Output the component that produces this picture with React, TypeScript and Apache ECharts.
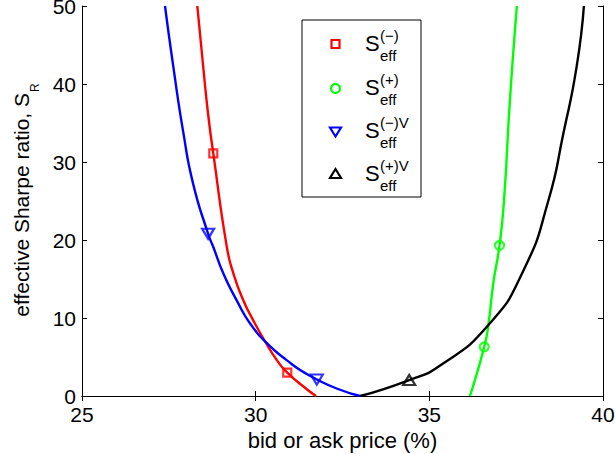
import { useEffect, useRef } from "react";
import * as echarts from "echarts";

const FONT = "'Liberation Sans', Arial, Helvetica, sans-serif";

// Curves: bid or ask price (%) against effective Sharpe ratio
const sMinusX = [28.32, 28.49, 28.64, 28.78, 29.17, 29.36, 29.64, 29.93, 30.27, 30.61, 30.91, 31.49, 31.74];
const sMinusY = [50, 42.2, 35.8, 31.1, 19.1, 15.7, 12.3, 9.7, 7.0, 4.6, 3.0, 0.8, 0];

const sPlusX = [36.17, 36.58, 36.70, 36.84, 37.02, 37.15, 37.32, 37.52];
const sPlusY = [0, 6.3, 9.1, 14.4, 19.3, 25.1, 37.9, 50];

const sMinusVX = [27.39, 27.63, 27.92, 28.2, 28.63, 28.78, 29.07, 29.45, 29.84, 30.27, 30.89, 31.56, 32.43, 33.01];
const sMinusVY = [50, 42.2, 33.7, 27.2, 20.8, 19.1, 15.7, 12.3, 9.3, 7.0, 4.6, 2.6, 0.8, 0];

const sPlusVX = [33.01, 34.42, 35.31, 36.7, 37.71, 38.43, 38.86, 39.24, 39.45];
const sPlusVY = [0, 2.05, 3.9, 9.1, 16.1, 25.1, 33.7, 42.2, 50];

// Marker positions on each curve
const sMinusMarkX = [28.78, 30.91];
const sMinusMarkY = [31.1, 3.0];
const sPlusMarkX = [36.58, 37.02];
const sPlusMarkY = [6.3, 19.3];
const sMinusVMarkX = [28.63, 31.76];
const sMinusVMarkY = [20.8, 2.1];
const sPlusVMarkX = [34.42];
const sPlusVMarkY = [2.05];

// Legend superscripts for S_eff
const legendSup = ["(−)", "(+)", "(−)V", "(+)V"];
const legendColors = ["#ff0000", "#00ff00", "#0000ff", "#000000"];

const X_MIN = 25;
const X_MAX = 40;
const X_STEP = 5;
const Y_MIN = 0;
const Y_MAX = 50;
const Y_STEP = 10;

const zip = (xs: number[], ys: number[]) => xs.map((x, i) => [x, ys[i]]);

function curve(name: string, xs: number[], ys: number[], color: string) {
  return {
    name,
    type: "line",
    data: zip(xs, ys),
    smooth: 0.55,
    showSymbol: false,
    symbol: "none",
    lineStyle: { color, width: 2.4 },
    z: 2,
  };
}

function markers(xs: number[], ys: number[], color: string, symbol: string, size: any, rotate = 0) {
  return {
    type: "scatter",
    data: zip(xs, ys),
    symbol,
    symbolSize: size,
    symbolRotate: rotate,
    itemStyle: { color: "rgba(0,0,0,0)", borderColor: color, borderWidth: 2.2 },
    z: 3,
  };
}

function legendMarker(i: number, cx: number, cy: number) {
  const color = legendColors[i];
  const style = { fill: "none", stroke: color, lineWidth: 2.2 };
  if (i === 0) return { type: "rect", shape: { x: cx - 4, y: cy - 4, width: 8, height: 8 }, style };
  if (i === 1) return { type: "circle", shape: { cx, cy, r: 4.5 }, style };
  if (i === 2)
    return { type: "polygon", shape: { points: [[cx - 5.5, cy - 4], [cx + 5.5, cy - 4], [cx, cy + 5]] }, style };
  return { type: "polygon", shape: { points: [[cx - 5.5, cy + 4], [cx + 5.5, cy + 4], [cx, cy - 5]] }, style };
}

function legendGraphic() {
  const rows = [44, 88.5, 131.5, 174];
  const children: any[] = [
    { type: "rect", shape: { x: 302, y: 20, width: 119, height: 177 }, style: { fill: "#fff", stroke: "#000", lineWidth: 1 } },
  ];
  rows.forEach((cy, i) => {
    children.push(legendMarker(i, 335.5, cy));
    children.push({
      type: "text",
      x: 365,
      y: cy - 1,
      style: { text: "S", fontFamily: FONT, fontSize: 22, fill: "#000", align: "left", verticalAlign: "middle" },
    });
    children.push({
      type: "text",
      x: 380,
      y: cy - 9,
      style: { text: legendSup[i], fontFamily: FONT, fontSize: 15, fill: "#000", align: "left", verticalAlign: "middle" },
    });
    children.push({
      type: "text",
      x: 380,
      y: cy + 11,
      style: { text: "eff", fontFamily: FONT, fontSize: 15, fill: "#000", align: "left", verticalAlign: "middle" },
    });
  });
  return { type: "group", z: 10, children };
}

function yNameGraphic() {
  return {
    type: "group",
    x: 21.4,
    y: 93,
    rotation: Math.PI / 2,
    children: [
      {
        type: "text",
        x: 0,
        y: 0,
        style: { text: "effective Sharpe ratio, S", fontFamily: FONT, fontSize: 21, fill: "#000", align: "right", verticalAlign: "middle" },
      },
      {
        type: "text",
        x: 1,
        y: 13.3,
        style: { text: "R", fontFamily: FONT, fontSize: 12, fill: "#000", align: "left", verticalAlign: "middle" },
      },
    ],
  };
}

const axisLineStyle = { show: true, lineStyle: { color: "#000", width: 1 } };
const tickStyle = { show: true, inside: true, length: 5, lineStyle: { color: "#000", width: 1 } };

export default function App() {
  const ref = useRef<HTMLDivElement>(null);

  useEffect(() => {
    if (!ref.current) return;
    const chart = echarts.init(ref.current, undefined, { renderer: "svg" });
    chart.setOption({
      animation: false,
      backgroundColor: "#fff",
      grid: { left: 82, right: 12, top: 6, bottom: 58, containLabel: false, outerBoundsMode: "none" },
      xAxis: [
        {
          type: "value",
          min: X_MIN,
          max: X_MAX,
          interval: X_STEP,
          position: "bottom",
          name: "bid or ask price (%)",
          nameLocation: "middle",
          nameGap: 33,
          nameTextStyle: { fontFamily: FONT, fontSize: 22, color: "#000" },
          axisLine: axisLineStyle,
          axisTick: tickStyle,
          axisLabel: { fontFamily: FONT, fontSize: 21, color: "#000", margin: 8 },
          splitLine: { show: false },
        },
        {
          type: "value",
          min: X_MIN,
          max: X_MAX,
          interval: X_STEP,
          position: "top",
          axisLine: axisLineStyle,
          axisTick: tickStyle,
          axisLabel: { show: false },
          splitLine: { show: false },
        },
      ],
      yAxis: [
        {
          type: "value",
          min: Y_MIN,
          max: Y_MAX,
          interval: Y_STEP,
          position: "left",
          axisLine: axisLineStyle,
          axisTick: tickStyle,
          axisLabel: { fontFamily: FONT, fontSize: 21, lineHeight: 16, color: "#000", margin: 6, padding: [4, 0, 0, 0] },
          splitLine: { show: false },
        },
        {
          type: "value",
          min: Y_MIN,
          max: Y_MAX,
          interval: Y_STEP,
          position: "right",
          axisLine: axisLineStyle,
          axisTick: tickStyle,
          axisLabel: { show: false },
          splitLine: { show: false },
        },
      ],
      series: [
        curve("S(−)", sMinusX, sMinusY, "#ff0000"),
        curve("S(+)", sPlusX, sPlusY, "#00ff00"),
        curve("S(−)V", sMinusVX, sMinusVY, "#0000ff"),
        curve("S(+)V", sPlusVX, sPlusVY, "#000000"),
        markers(sMinusMarkX, sMinusMarkY, "#ff0000", "rect", 8),
        markers(sPlusMarkX, sPlusMarkY, "#00ff00", "circle", 9),
        markers(sMinusVMarkX, sMinusVMarkY, "#0000ff", "triangle", [12, 10], 180),
        markers(sPlusVMarkX, sPlusVMarkY, "#000000", "triangle", [12, 10]),
      ],
      graphic: [yNameGraphic(), legendGraphic()],
    });
    return () => chart.dispose();
  }, []);

  return <div ref={ref} style={{ width: 615, height: 454, position: "absolute", left: 0, top: 0 }} />;
}
